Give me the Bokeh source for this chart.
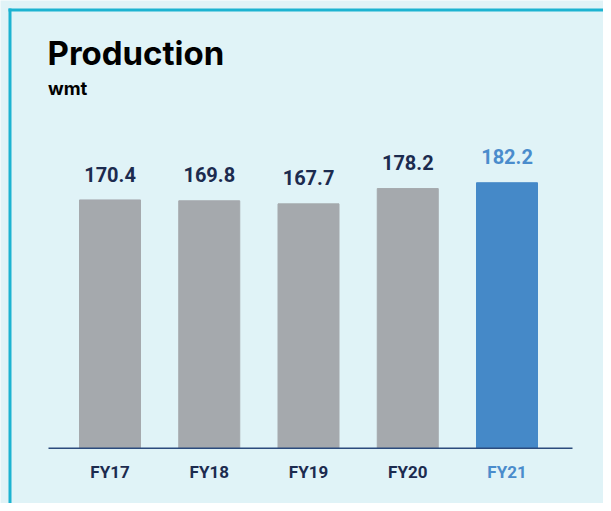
from bokeh.plotting import figure
from bokeh.models import ColumnDataSource, Range1d
from bokeh.core.properties import value
from bokeh.embed import file_html
from bokeh.resources import INLINE

# ---- data ----
categories = ["FY17", "FY18", "FY19", "FY20", "FY21"]
production = [170.4, 169.8, 167.7, 178.2, 182.2]
labels = ["170.4", "169.8", "167.7", "178.2", "182.2"]
highlight = "FY21"
title_text = "Production"
unit_text = "wmt"

# ---- style ----
GRAY = "#a5a9ad"
BLUE = "#4589c8"
NAVY = "#1c2b4f"
LBLUE = "#4a8ccc"
BG = "#e0f3f7"
CYAN = "#1cb3d1"
AXIS = "#2b4b7d"

W, H = 603, 503
# pixel geometry of the plotting area (screen px of canvas)
X0_PX, X_STEP = 109.5, 99.25      # centre of first category, spacing
Y0_PX, Y_SCALE = 447.7, 1.457     # baseline px, px per unit
BASE_FIX = 0.42                   # baseline correction (em)


def dx(px):
    return (px - X0_PX) / X_STEP


def dy(py):
    return (Y0_PX - py) / Y_SCALE


xs = list(range(len(categories)))
bar_colors = [BLUE if c == highlight else GRAY for c in categories]
text_colors = [LBLUE if c == highlight else NAVY for c in categories]

src = ColumnDataSource(dict(x=xs, y=production, lab=labels, cat=categories,
                            bc=bar_colors, tc=text_colors))

p = figure(width=W, height=H, output_backend="svg", toolbar_location=None,
           x_range=Range1d(dx(0), dx(W)), y_range=Range1d(dy(H), dy(0)),
           title=None, min_border=0, min_border_left=0, min_border_right=0,
           min_border_top=0, min_border_bottom=0)
p.background_fill_color = BG
p.border_fill_color = BG
p.outline_line_color = None
p.xaxis.visible = False
p.yaxis.visible = False
p.grid.visible = False

# card border (left and top edges)
p.quad(left=[dx(8)], right=[dx(11)], top=[dy(8)], bottom=[dy(H + 5)],
       color=CYAN, line_color=None)
p.quad(left=[dx(8)], right=[dx(W + 5)], top=[dy(8)], bottom=[dy(11)],
       color=CYAN, line_color=None)

# titles
p.text(x=[dx(47)], y=[dy(66.7 - BASE_FIX * 33)], text=[title_text], text_align="left",
       text_baseline="alphabetic", text_color="#000000",
       text_font=value("Inter"), text_font_size="33px", text_font_style="bold")
p.text(x=[dx(47.5)], y=[dy(95.7 - BASE_FIX * 18.5)], text=[unit_text], text_align="left",
       text_baseline="alphabetic", text_color="#000000",
       text_font=value("Inter"), text_font_size="18.5px", text_font_style="bold")

# bars
p.vbar(x="x", top="y", bottom=0, width=61 / X_STEP, color="bc", source=src)

# axis baseline
p.segment(x0=[dx(48)], x1=[dx(572)], y0=[0], y1=[0], line_color=AXIS, line_width=1.5)

# value labels
p.text(x="x", y="y", text="lab", source=src, text_align="center",
       text_baseline="alphabetic", y_offset=-17.5 - BASE_FIX * 20, text_color="tc",
       text_font=value("Roboto"), text_font_size="20px", text_font_style="bold")
# category labels
p.text(x="x", y=0, text="cat", source=src, text_align="center",
       text_baseline="alphabetic", y_offset=30.6 - BASE_FIX * 17, text_color="tc",
       text_font=value("Roboto"), text_font_size="17px", text_font_style="bold")

open("out.html", "w").write(file_html(p, INLINE))
